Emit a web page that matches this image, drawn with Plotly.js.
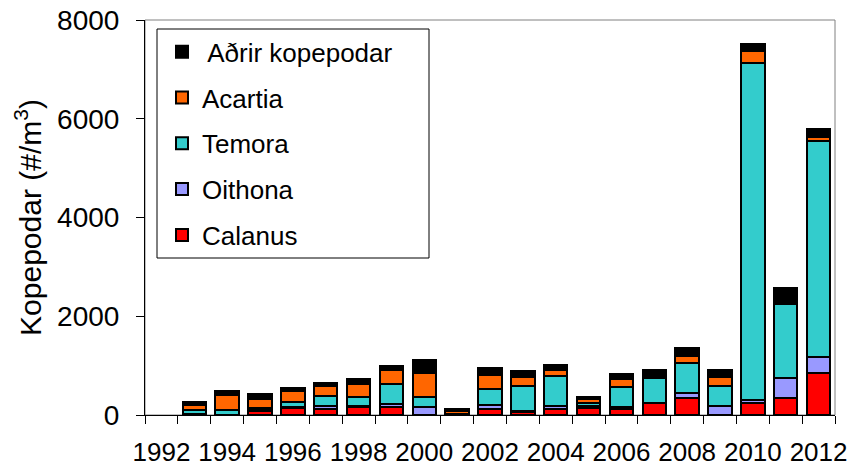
<!DOCTYPE html>
<html>
<head>
<meta charset="utf-8">
<script src="https://cdn.plot.ly/plotly-3.0.1.min.js"></script>
<style>html,body{margin:0;padding:0;background:#fff;}#chart{width:851px;height:466px;}</style>
</head>
<body>
<div id="chart"></div>
<script>
const years = [1993,1994,1995,1996,1997,1998,1999,2000,2001,2002,2003,2004,2005,2006,2007,2008,2009,2010,2011,2012];
const tickYears = [1992,1994,1996,1998,2000,2002,2004,2006,2008,2010,2012];
const boundaries = [1991.5,1992.5,1993.5,1994.5,1995.5,1996.5,1997.5,1998.5,1999.5,2000.5,2001.5,2002.5,2003.5,2004.5,2005.5,2006.5,2007.5,2008.5,2009.5,2010.5,2011.5,2012.5];
const calanus = [30, 10, 80, 135, 115, 156, 162, 0, 5, 115, 60, 115, 135, 115, 237, 338, 0, 236, 338, 844];
const oithona = [0, 0, 30, 20, 60, 27, 61, 156, 0, 87, 30, 67, 50, 40, 0, 101, 182, 68, 405, 337];
const temora = [80, 101, 40, 101, 203, 189, 405, 215, 10, 318, 506, 608, 50, 405, 506, 620, 405, 6818, 1505, 4374];
const acartia = [90, 290, 182, 223, 203, 257, 283, 486, 65, 290, 169, 121, 87, 176, 0, 135, 189, 256, 0, 81];
const adrir = [60, 81, 101, 67, 67, 101, 81, 257, 40, 148, 121, 101, 50, 94, 168, 156, 135, 135, 330, 156];

const seriesNames = ['Calanus','Oithona','Temora','Acartia','\u2009Aðrir kopepodar'];
const seriesData = [calanus, oithona, temora, acartia, adrir];
const seriesColors = ['#FF0000','#9999FF','#33CCCC','#FF6600','#000000'];

const traces = seriesNames.map((n,i)=>({
  type:'bar', name:n, x:years, y:seriesData[i], legendgroup:'g'+i, legendrank:5-i,
  marker:{color:seriesColors[i], line:{color:'#000', width:2}}
}));

const layout = {
  width:851, height:466,
  margin:{l:145, r:16, t:20, b:51},
  barmode:'stack', bargap:0.29,
  paper_bgcolor:'#fff', plot_bgcolor:'#fff',
  font:{family:'Liberation Sans, Arial, sans-serif', color:'#000'},
  showlegend:true,
  legend:{x:(162-145)/690, y:0.979, xanchor:'left', yanchor:'top', traceorder:'grouped', tracegroupgap:9,
          borderwidth:0, bgcolor:'rgba(0,0,0,0)', font:{size:26, color:'#000'}},
  xaxis:{range:[1991.5,2012.5], tickmode:'array', tickvals:tickYears, ticktext:tickYears.map(String),
         ticks:'', showgrid:false, zeroline:false, showline:true, linecolor:'#000', linewidth:1,
         ticklabelstandoff:14, tickfont:{size:26},
         minor:{tickmode:'array', tickvals:boundaries, ticks:'outside', ticklen:8, tickcolor:'#000', tickwidth:1, showgrid:false}},
  yaxis:{range:[0,8000], tickvals:[0,2000,4000,6000,8000], ticks:'outside', ticklen:8, tickcolor:'#000',
         showgrid:false, zeroline:false, showline:true, linecolor:'#000', linewidth:1,
         tickfont:{size:28}, ticklabelstandoff:11,
         title:{text:'Kopepodar (#/m<sup>3</sup>)', font:{size:30}, standoff:6}},
  shapes:[
    {type:'rect', xref:'paper', yref:'paper', x0:0, x1:1, y0:0, y1:1, line:{color:'#808080', width:1}, layer:'below'},
    {type:'rect', xref:'paper', yref:'paper', x0:(157-145)/690, x1:(429-145)/690, y0:1-(258-20)/395, y1:1-(29-20)/395, line:{color:'#000', width:1}, fillcolor:'rgba(0,0,0,0)', layer:'above'}
  ]
};
Plotly.newPlot('chart', traces, layout, {displayModeBar:false, staticPlot:true});
</script>
</body>
</html>
